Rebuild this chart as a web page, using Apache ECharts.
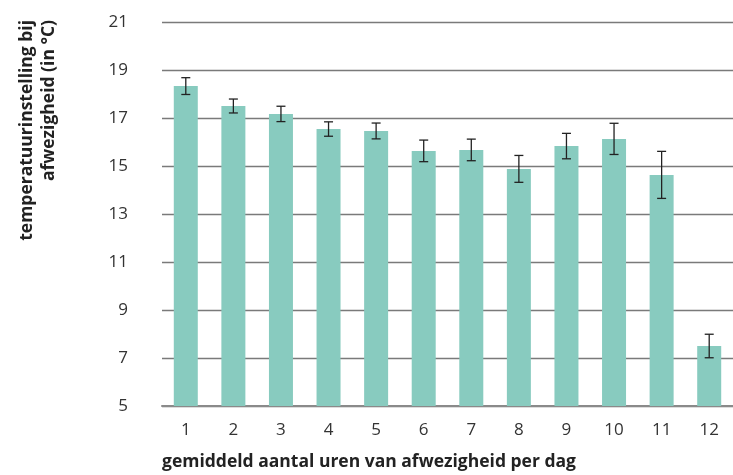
<!DOCTYPE html>
<html>
<head>
<meta charset="utf-8">
<script src="https://cdn.jsdelivr.net/npm/echarts@6/dist/echarts.min.js"></script>
<style>
  html, body { margin: 0; padding: 0; background: #fff; }
  #main { width: 733px; height: 475px; }
</style>
</head>
<body>
<div id="main"></div>
<script>
// uren afwezig per dag
var categories = ['1', '2', '3', '4', '5', '6', '7', '8', '9', '10', '11', '12'];
// gemiddelde temperatuurinstelling
var values = [18.33, 17.5, 17.17, 16.54, 16.46, 15.63, 15.67, 14.88, 15.83, 16.13, 14.63, 7.5];
// foutmarge (+/-)
var errors = [0.35, 0.29, 0.32, 0.3, 0.33, 0.45, 0.45, 0.56, 0.53, 0.65, 0.98, 0.49];
var yTicks = [5, 7, 9, 11, 13, 15, 17, 19, 21];

var errData = [];
for (var i = 0; i < values.length; i++) {
    errData.push([i, values[i] - errors[i], values[i] + errors[i]]);
}

var myChart = echarts.init(document.getElementById('main'));
var font = '"Open Sans", "Noto Sans", sans-serif';

var option = {
    animation: false,
    grid: {
        left: 162,
        width: 576,
        top: 22,
        bottom: 69,
        containLabel: false
    },
    xAxis: {
        type: 'category',
        data: categories,
        axisTick: { show: false },
        axisLine: { lineStyle: { color: '#8a8a8a', width: 2 } },
        axisLabel: { color: '#333', fontSize: 17, fontFamily: font, margin: 16 }
    },
    yAxis: {
        type: 'value',
        min: yTicks[0],
        max: yTicks[yTicks.length - 1],
        interval: 2,
        axisLine: { show: false },
        axisTick: { show: false },
        axisLabel: { color: '#333', fontSize: 17, fontFamily: font, margin: 34 },
        splitLine: { lineStyle: { color: '#7a7a7a', width: 1.3 } }
    },
    graphic: [
        {
            type: 'text',
            x: 27, y: 20,
            rotation: Math.PI / 2,
            style: {
                text: 'temperatuurinstelling bij',
                font: 'bold 17.5px ' + font,
                fill: '#222',
                textAlign: 'right',
                textVerticalAlign: 'middle'
            }
        },
        {
            type: 'text',
            x: 49, y: 20,
            rotation: Math.PI / 2,
            style: {
                text: 'afwezigheid (in °C)',
                font: 'bold 17.5px ' + font,
                fill: '#222',
                textAlign: 'right',
                textVerticalAlign: 'middle'
            }
        },
        {
            type: 'text',
            left: 162, top: 453,
            style: {
                text: 'gemiddeld aantal uren van afwezigheid per dag',
                font: 'bold 17.5px ' + font,
                fill: '#222'
            }
        }
    ],
    series: [
        {
            type: 'bar',
            data: values,
            barWidth: 24,
            itemStyle: { color: '#88cbbf' }
        },
        {
            type: 'custom',
            data: errData,
            z: 10,
            renderItem: function (params, api) {
                var x = api.value(0);
                var lo = api.coord([x, api.value(1)]);
                var hi = api.coord([x, api.value(2)]);
                var half = 4.5;
                var style = { stroke: '#222', lineWidth: 1.3 };
                return {
                    type: 'group',
                    children: [
                        { type: 'line', shape: { x1: lo[0], y1: lo[1], x2: hi[0], y2: hi[1] }, style: style },
                        { type: 'line', shape: { x1: lo[0] - half, y1: lo[1], x2: lo[0] + half, y2: lo[1] }, style: style },
                        { type: 'line', shape: { x1: hi[0] - half, y1: hi[1], x2: hi[0] + half, y2: hi[1] }, style: style }
                    ]
                };
            }
        }
    ]
};

myChart.setOption(option);
</script>
</body>
</html>
